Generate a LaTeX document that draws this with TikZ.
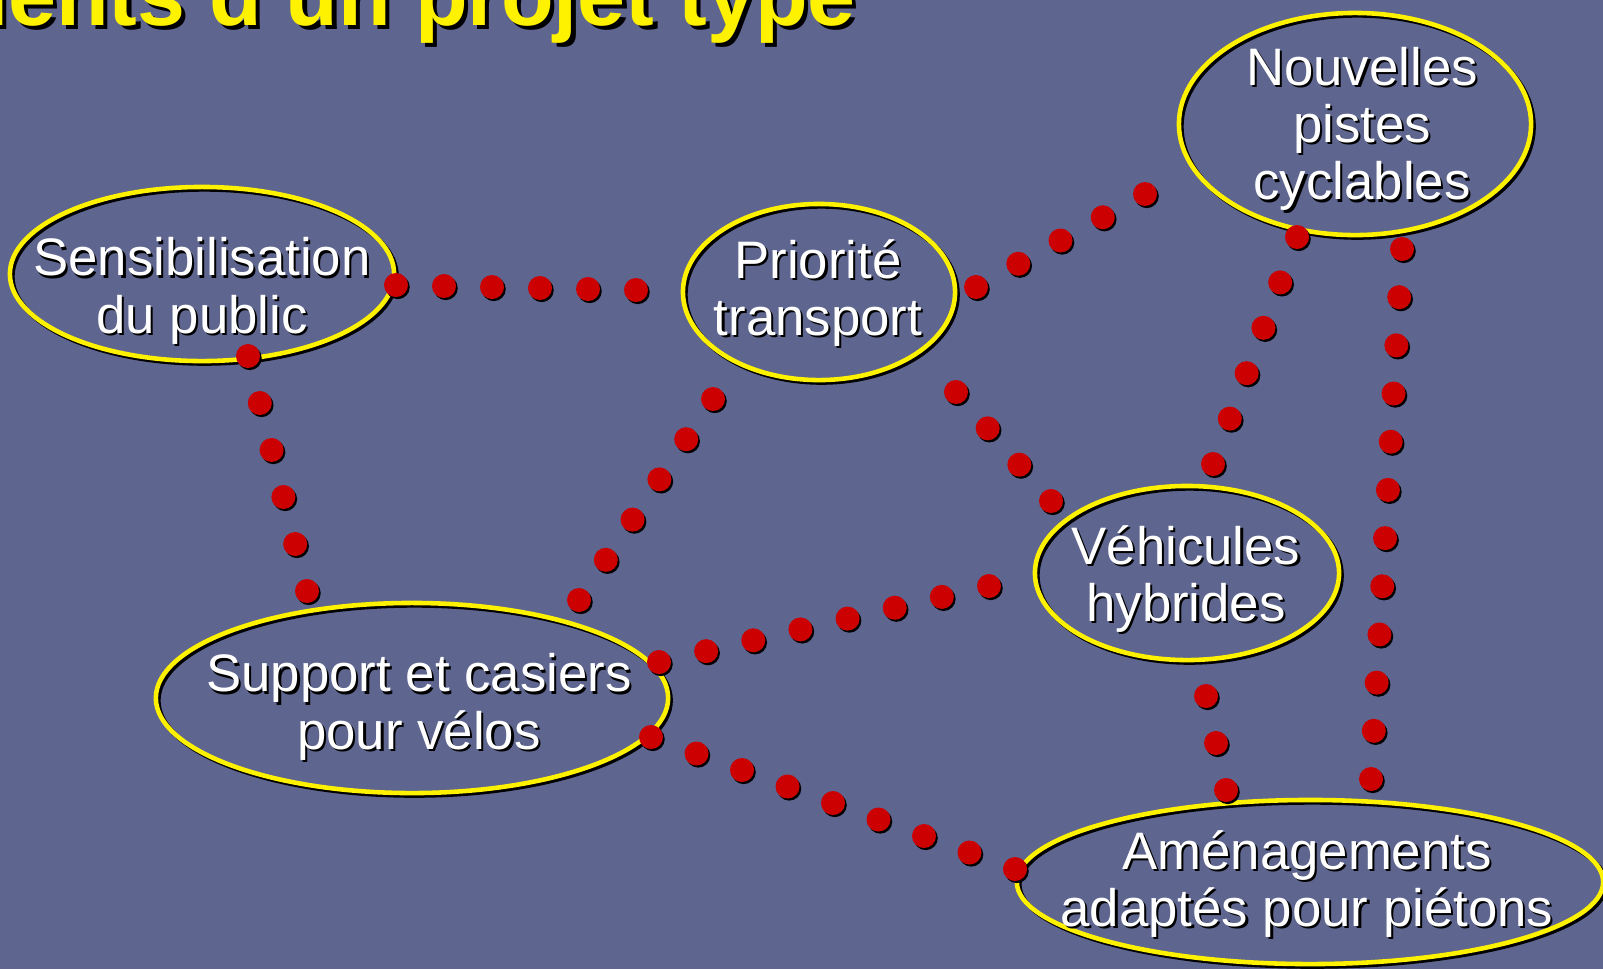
\documentclass[tikz,border=0pt]{standalone}
\usepackage{fontspec}
\setmainfont{Liberation Sans}
\usetikzlibrary{calc, shapes.geometric, shadows}

\definecolor{slide}{RGB}{94,101,143}
\definecolor{beadred}{RGB}{204,0,0}
% white (or yellow) text with a hard black shadow
\newcommand{\shtx}[2][0.6pt]{\leavevmode\rlap{\kern#1\raisebox{-#1}{\color{black}#2}}#2}

\begin{document}
\begin{tikzpicture}[x=0.01cm, y=-0.01cm,
        point/.style={circle, fill=beadred, inner sep=0pt, minimum size=0.24cm,
            general shadow={fill=black, shadow xshift=0.5pt, shadow yshift=-0.6pt}},
        bubble/.style={ellipse, draw=yellow, line width=1.3pt, inner sep=0pt,
            general shadow={draw=black, line width=1.3pt,
                shadow xshift=0.7pt, shadow yshift=-0.7pt}},
        txt/.style={text=white, align=center, font=\fontsize{15}{16.3}\selectfont}
    ]

        % Slide background
        \fill[slide] (0,0) rectangle (1603,969);
        \useasboundingbox (0,0) rectangle (1603,969);

        % Title (cut by the top left corner)
        \node[anchor=base east, text=yellow, font=\fontsize{24.5}{29}\selectfont\bfseries]
            (title) at (868,25) {\shtx[1.2pt]{Éléments d\symbol{"0027}un projet type}};

        % Draw the ellipses
        \node[bubble, minimum width=3.84cm, minimum height=1.74cm] (sens) at (202,274) {};
        \node[bubble, minimum width=2.72cm, minimum height=1.76cm] (prio) at (819,292) {};
        \node[bubble, minimum width=3.52cm, minimum height=2.22cm] (pistes) at (1355,124) {};
        \node[bubble, minimum width=5.12cm, minimum height=1.90cm] (support) at (412,698) {};
        \node[bubble, minimum width=3.04cm, minimum height=1.74cm] (hybr) at (1187,573) {};
        \node[bubble, minimum width=5.86cm, minimum height=1.64cm] (amen) at (1310,882) {};

        % Texts of the ellipses
        \node[txt] (sens-t) at (202,292) {\shtx{Sensibilisation}\\ \shtx{du public}};
        \node[txt] (prio-t) at (818,294) {\shtx{Priorité}\\ \shtx{transport}};
        \node[txt] (pistes-t) at (1362,130) {\shtx{Nouvelles}\\ \shtx{pistes}\\ \shtx{cyclables}};
        \node[txt] (support-t) at (419,708) {\shtx{Support et casiers}\\ \shtx{pour vélos}};
        \node[txt] (hybr-t) at (1186,580) {\shtx{Véhicules}\\ \shtx{hybrides}};
        \node[txt] (amen-t) at (1307,885) {\shtx{Aménagements}\\ \shtx{adaptés pour piétons}};

        % Ends of the dotted links
        \coordinate (sp1) at (396,285);   \coordinate (sp2) at (636,290);
        \coordinate (ss1) at (248,356);   \coordinate (ss2) at (307,591);
        \coordinate (pn1) at (976,287);   \coordinate (pn2) at (1145,194);
        \coordinate (ps1) at (713,399);   \coordinate (ps2) at (579,600);
        \coordinate (ph1) at (956,392);   \coordinate (ph2) at (1051,501);
        \coordinate (sh1) at (659,662);   \coordinate (sh2) at (989,586);
        \coordinate (sa1) at (651,737);   \coordinate (sa2) at (1015,869);
        \coordinate (nh1) at (1297,237);  \coordinate (nh2) at (1213,464);
        \coordinate (na1) at (1402,249);  \coordinate (na2) at (1371,779);
        \coordinate (ha1) at (1206,696);  \coordinate (ha2) at (1226,790);

        % Draw the red dots between the ends
        \foreach \from/\to/\n in {sp1/sp2/5, ss1/ss2/5, pn1/pn2/4, ps1/ps2/5, ph1/ph2/3,
                sh1/sh2/7, sa1/sa2/8, nh1/nh2/5, na1/na2/11, ha1/ha2/2}
            \foreach \i in {0,...,\n}
                \node[point] (\from-\i) at ($(\from)!\i/\n!(\to)$) {};

    \end{tikzpicture}
\end{document}
